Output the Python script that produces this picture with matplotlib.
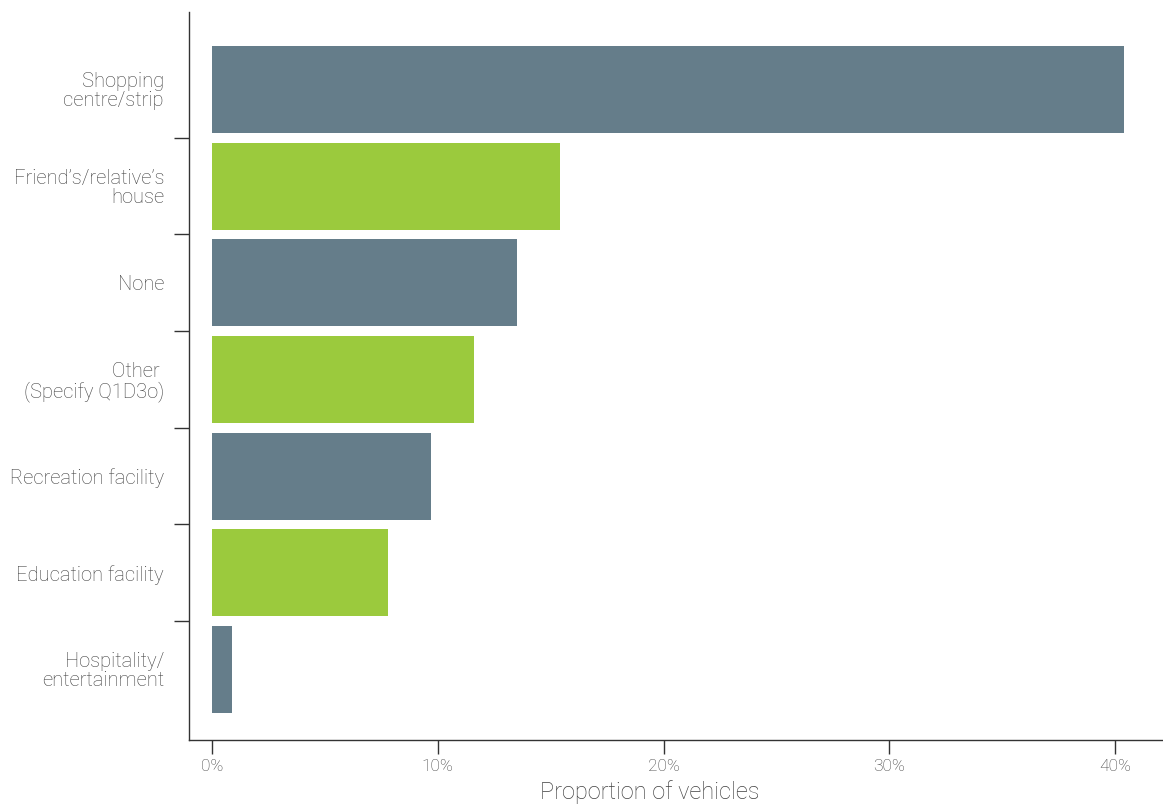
import matplotlib
matplotlib.use("Agg")
import matplotlib.pyplot as plt
import numpy as np

categories = [
    "Shopping\ncentre/strip",
    "Friend\u2019s/relative\u2019s\nhouse",
    "None",
    "Other \n(Specify Q1D3o)",
    "Recreation facility",
    "Education facility",
    "Hospitality/\nentertainment",
]
values = [40.4, 15.4, 13.5, 11.6, 9.7, 7.8, 0.9]
xticks = [0, 10, 20, 30, 40]
xtick_labels = ["0%", "10%", "20%", "30%", "40%"]

SLATE = "#657d8a"
GREEN = "#9bca3d"
TEXT = "#404040"
SPINE = "#333333"

plt.rcParams["font.family"] = ["Roboto", "DejaVu Sans"]

fig = plt.figure(figsize=(11.63, 8.05), dpi=100)
ax = fig.add_axes([189 / 1163, 1 - 740 / 805, (1163 - 189) / 1163, (740 - 12) / 805])

pos = np.arange(len(categories))
colors = [SLATE if i % 2 == 0 else GREEN for i in range(len(categories))]
ax.barh(pos, values, height=0.9, color=colors, edgecolor="none")

ax.set_xlim(-1.02, 42.12)
ax.set_ylim(len(categories) - 1 + 0.73, -0.8)

# x axis
ax.set_xticks(xticks)
ax.set_xticklabels(xtick_labels, fontsize=12.5, color=TEXT, fontweight="light")
ax.tick_params(axis="x", length=10, width=1, color=SPINE, pad=4)
ax.set_xlabel("Proportion of vehicles", fontsize=17, color=TEXT,
              fontweight="light")
ax.xaxis.set_label_coords((650 - 189) / 974, -0.0545)

# y axis: separators between bars, labels centred on bars
ax.set_yticks(pos[:-1] + 0.5)
ax.set_yticklabels([])
ax.tick_params(axis="y", which="major", length=11, width=1, color=SPINE)
ax.set_yticks(pos, minor=True)
ax.set_yticklabels(categories, minor=True, fontsize=14.5, color=TEXT,
                   fontweight="light", linespacing=1.0)
ax.tick_params(axis="y", which="minor", length=0, pad=18)
for lbl in ax.get_yticklabels(minor=True):
    lbl.set_horizontalalignment("right")
    lbl.set_multialignment("right")

for side in ("top", "right"):
    ax.spines[side].set_visible(False)
for side in ("left", "bottom"):
    ax.spines[side].set_color(SPINE)
    ax.spines[side].set_linewidth(1)

fig.savefig("out.png", dpi=100)
